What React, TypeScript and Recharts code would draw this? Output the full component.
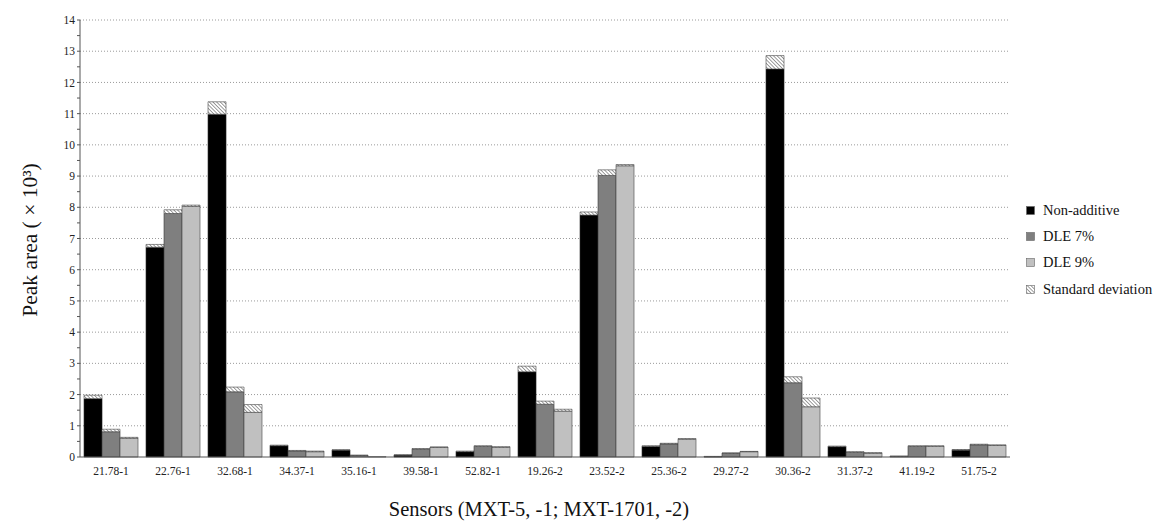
import { BarChart, Bar, XAxis, YAxis, CartesianGrid } from "recharts"

const categories = [
  "21.78-1", "22.76-1", "32.68-1", "34.37-1", "35.16-1", "39.58-1", "52.82-1",
  "19.26-2", "23.52-2", "25.36-2", "29.27-2", "30.36-2", "31.37-2", "41.19-2", "51.75-2",
]

const nonAdditive = [1.87, 6.72, 10.98, 0.36, 0.22, 0.06, 0.17, 2.73, 7.75, 0.34, 0.01, 12.43, 0.33, 0.02, 0.22]
const nonAdditiveSd = [0.11, 0.09, 0.4, 0.02, 0.01, 0.01, 0.02, 0.18, 0.1, 0.02, 0.01, 0.43, 0.02, 0.01, 0.02]
const dle7 = [0.81, 7.8, 2.09, 0.19, 0.05, 0.25, 0.34, 1.69, 9.02, 0.42, 0.12, 2.38, 0.15, 0.34, 0.39]
const dle7Sd = [0.08, 0.12, 0.15, 0.02, 0.01, 0.02, 0.02, 0.1, 0.18, 0.02, 0.01, 0.19, 0.02, 0.02, 0.02]
const dle9 = [0.6, 8.03, 1.43, 0.17, 0.01, 0.31, 0.31, 1.47, 9.33, 0.57, 0.17, 1.61, 0.12, 0.34, 0.37]
const dle9Sd = [0.03, 0.04, 0.25, 0.02, 0, 0.01, 0.02, 0.06, 0.04, 0.02, 0.01, 0.28, 0.02, 0.02, 0.02]

const yTicks = Array.from({ length: 29 }, (_, i) => i / 2)
const gridValues = [1, 2, 3, 4, 5, 6, 7, 8, 9, 10, 11, 12, 13, 14]

const legendItems = [
  { name: "Non-additive", fill: "#000000" },
  { name: "DLE 7%", fill: "#7f7f7f" },
  { name: "DLE 9%", fill: "#c0c0c0" },
  { name: "Standard deviation", fill: "url(#sdHatch)" },
]

const data = categories.map((name, i) => ({
  name,
  na: nonAdditive[i],
  naSd: nonAdditiveSd[i],
  d7: dle7[i],
  d7Sd: dle7Sd[i],
  d9: dle9[i],
  d9Sd: dle9Sd[i],
}))

const FONT = "Liberation Serif"

export default function App() {
  return (
    <div style={{ position: "absolute", left: 0, top: 0, width: 1154, height: 521, background: "#fff", fontFamily: FONT }}>
      <svg width={0} height={0} style={{ position: "absolute" }}>
        <defs>
          <pattern id="sdHatch" patternUnits="userSpaceOnUse" width={2.6} height={2.6} patternTransform="rotate(-45)">
            <rect width={2.6} height={2.6} fill="#ffffff" />
            <line x1={0} y1={0} x2={0} y2={2.6} stroke="#6a6a6a" strokeWidth={1.3} />
          </pattern>
        </defs>
      </svg>
      <BarChart
        width={1154}
        height={521}
        data={data}
        margin={{ top: 20, right: 144, bottom: 34, left: 50 }}
        barCategoryGap="6.5%"
        barGap={0}
        style={{ fontFamily: FONT }}
      >
        <CartesianGrid
          vertical={false}
          horizontalValues={gridValues}
          stroke="#9a9a9a"
          strokeDasharray="1 2"
        />
        <XAxis
          dataKey="name"
          height={30}
          tickLine={false}
          axisLine={{ stroke: "#555" }}
          tick={{ fontSize: 11.5, fill: "#222", fontFamily: FONT }}
          tickMargin={4}
          interval={0}
          label={{
            content: () => (
              <text x={539} y={516} textAnchor="middle" fontSize={20.5} fontFamily={FONT} fill="#111">
                Sensors (MXT-5, -1; MXT-1701, -2)
              </text>
            ),
          }}
        />
        <YAxis
          width={30}
          domain={[0, 14]}
          ticks={yTicks}
          interval={0}
          tickSize={3}
          tickLine={{ stroke: "#555" }}
          axisLine={{ stroke: "#555" }}
          tickFormatter={(v: number) => (Number.isInteger(v) ? String(v) : "")}
          tick={{ fontSize: 11.5, fill: "#222", fontFamily: FONT }}
          label={{
            content: () => (
              <text
                x={0}
                y={0}
                transform="translate(37 240) rotate(-90)"
                textAnchor="middle"
                fontSize={21.5}
                fontFamily={FONT}
                fill="#111"
              >
                Peak area ( × 10³)
              </text>
            ),
          }}
        />
        <Bar dataKey="na" stackId="a" fill="#000000" stroke="#222" strokeWidth={0.6} isAnimationActive={false} />
        <Bar dataKey="naSd" stackId="a" fill="url(#sdHatch)" stroke="#444" strokeWidth={0.6} isAnimationActive={false} />
        <Bar dataKey="d7" stackId="b" fill="#7f7f7f" stroke="#333" strokeWidth={0.6} isAnimationActive={false} />
        <Bar dataKey="d7Sd" stackId="b" fill="url(#sdHatch)" stroke="#444" strokeWidth={0.6} isAnimationActive={false} />
        <Bar dataKey="d9" stackId="c" fill="#c0c0c0" stroke="#444" strokeWidth={0.6} isAnimationActive={false} />
        <Bar dataKey="d9Sd" stackId="c" fill="url(#sdHatch)" stroke="#444" strokeWidth={0.6} isAnimationActive={false} />
      </BarChart>
      <div style={{ position: "absolute", left: 1026, top: 197 }}>
        {legendItems.map((item) => (
          <div key={item.name} style={{ display: "flex", alignItems: "center", height: 26.3, fontSize: 14.5, color: "#111", fontFamily: FONT }}>
            <svg width={9} height={9} style={{ marginRight: 8 }}>
              <rect x={0.5} y={0.5} width={8} height={8} fill={item.fill} stroke="#666" strokeWidth={0.6} />
            </svg>
            <span>{item.name}</span>
          </div>
        ))}
      </div>
    </div>
  )
}
